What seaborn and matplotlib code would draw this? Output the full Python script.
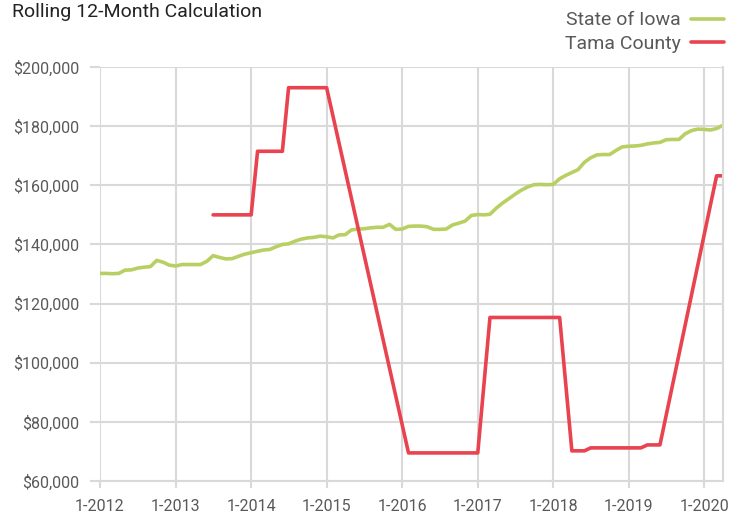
import matplotlib
matplotlib.use("Agg")
import matplotlib.pyplot as plt
import seaborn as sns
import pandas as pd
import numpy as np

# monthly values, Jan 2012 .. Apr 2020 (in $1,000)
months = pd.date_range("2012-01-01", "2020-04-01", freq="MS")

iowa = [
    130.2, 130.2, 130.1, 130.2, 131.3, 131.4, 132.0, 132.3, 132.5, 134.6, 134.0, 133.0,  # 2012
    132.7, 133.2, 133.2, 133.2, 133.2, 134.3, 136.2, 135.6, 135.1, 135.2, 136.0, 136.7,  # 2013
    137.2, 137.7, 138.1, 138.3, 139.2, 140.0, 140.2, 141.1, 141.8, 142.2, 142.4, 142.8,  # 2014
    142.6, 142.2, 143.2, 143.3, 144.9, 145.2, 145.3, 145.6, 145.8, 145.8, 146.8, 145.1,  # 2015
    145.2, 146.1, 146.2, 146.2, 146.0, 145.1, 145.1, 145.2, 146.6, 147.2, 147.9, 149.8,  # 2016
    150.1, 150.0, 150.2, 152.3, 154.0, 155.5, 157.0, 158.4, 159.5, 160.2, 160.3, 160.2,  # 2017
    160.3, 162.2, 163.3, 164.3, 165.3, 167.8, 169.3, 170.3, 170.4, 170.4, 171.8, 173.0,  # 2018
    173.2, 173.3, 173.5, 174.0, 174.3, 174.5, 175.4, 175.5, 175.5, 177.4, 178.5, 179.0,  # 2019
    178.9, 178.7, 179.2, 180.3,                                                          # 2020
]

na = np.nan
tama = [
    na, na, na, na, na, na, na, na, na, na, na, na,                                      # 2012
    na, na, na, na, na, na, 150.0, 150.0, 150.0, 150.0, 150.0, 150.0,                    # 2013
    150.0, 171.5, 171.5, 171.5, 171.5, 171.5, 193.0, 193.0, 193.0, 193.0, 193.0, 193.0,  # 2014
    193.0, na, na, na, na, na, na, na, na, na, na, na,                                   # 2015
    na, 69.5, 69.5, 69.5, 69.5, 69.5, 69.5, 69.5, 69.5, 69.5, 69.5, 69.5,                # 2016
    69.5, na, 115.3, 115.3, 115.3, 115.3, 115.3, 115.3, 115.3, 115.3, 115.3, 115.3,      # 2017
    115.3, 115.3, na, 70.2, 70.2, 70.2, 71.2, 71.2, 71.2, 71.2, 71.2, 71.2,              # 2018
    71.2, 71.2, 71.2, 72.2, 72.2, 72.2, na, na, na, na, na, na,                          # 2019
    na, na, 163.2, 163.2,                                                                # 2020
]

series_names = ["State of Iowa", "Tama County"]
colors = ["#b8d063", "#e8434f"]
years = list(range(2012, 2021))

df = pd.concat([
    pd.DataFrame({"month": months, "value": np.array(iowa) * 1000, "series": series_names[0]}),
    pd.DataFrame({"month": months, "value": np.array(tama) * 1000, "series": series_names[1]}),
]).dropna()

sns.set_theme(style="white")
plt.rcParams['font.family'] = ['Roboto', 'DejaVu Sans']

grid_c = "#d9d9d9"
text_c = "#595959"

fig = plt.figure(figsize=(7.43, 5.15), dpi=100)
ax = fig.add_axes([100 / 743, 34 / 515, 623 / 743, 414 / 515])

sns.lineplot(data=df, x="month", y="value", hue="series", hue_order=series_names,
             palette=colors, linewidth=2.6, ax=ax, legend=False)

ax.set_xlim(months[0], months[-1])
ax.set_ylim(60000, 200000)
ax.set_yticks(np.arange(60000, 200001, 20000))
ax.set_yticklabels([f"${v:,.0f}" for v in np.arange(60000, 200001, 20000)])
ax.set_xticks([pd.Timestamp(f"{y}-01-01") for y in years])
ax.set_xticklabels([f"1-{y}" for y in years])
ax.set_xlabel("")
ax.set_ylabel("")

ax.grid(True, color=grid_c, linewidth=1.5)
ax.set_axisbelow(True)
for side in ["left", "top"]:
    ax.spines[side].set_visible(False)
for side in ["bottom", "right"]:
    ax.spines[side].set_color(grid_c)
    ax.spines[side].set_linewidth(1.5)
ax.tick_params(axis="y", length=7, width=1.5, color=grid_c, labelcolor=text_c,
               labelsize=11.5, pad=8, left=True)
ax.tick_params(axis="x", length=5, width=1.5, color=grid_c, labelcolor=text_c,
               labelsize=11.5, pad=8, bottom=True)

fig.text(12 / 743, 1 - 3 / 515, "Rolling 12-Month Calculation", fontsize=14,
         color="#222222", ha="left", va="top")

handles = [plt.Line2D([], [], color=c, linewidth=2.6) for c in colors]
fig.legend(handles, series_names, loc="upper right", bbox_to_anchor=(0.998, 1.012),
           frameon=False, markerfirst=False, fontsize=14, labelcolor=text_c,
           handlelength=1.7, handletextpad=0.5, labelspacing=0.3)

fig.savefig("out.png", dpi=100)
